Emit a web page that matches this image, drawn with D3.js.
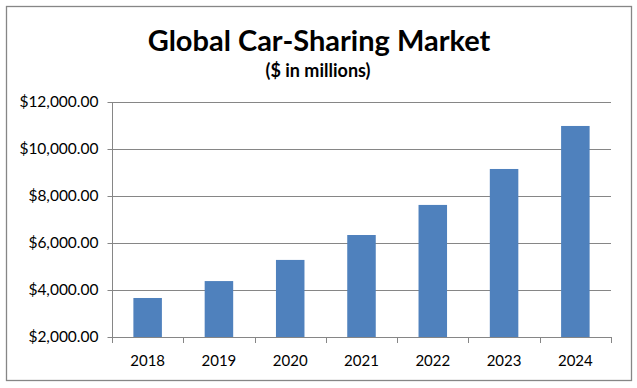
<!DOCTYPE html>
<html>
<head>
<meta charset="utf-8">
<script src="https://cdn.jsdelivr.net/npm/d3@7"></script>
<style>
  html, body { margin: 0; padding: 0; background: #fff; }
  svg { display: block; }
  text { font-family: Lato, "Open Sans", sans-serif; fill: #000; }
</style>
</head>
<body>
<svg id="chart" width="637" height="388"></svg>
<script>
const titleText = "Global Car-Sharing Market";
const subtitleText = "($ in millions)";
const categories = ["2018", "2019", "2020", "2021", "2022", "2023", "2024"];
const values = [3660, 4380, 5280, 6340, 7620, 9150, 10980];
const yTicks = [2000, 4000, 6000, 8000, 10000, 12000];

const svg = d3.select("#chart");
const W = 637, H = 388;
const margin = { left: 112, right: 26, top: 102, bottom: 51 };
const plotR = W - margin.right, plotB = H - margin.bottom;

svg.append("rect").attr("x", 6.5).attr("y", 6.5).attr("width", 625).attr("height", 374)
  .attr("fill", "#fff").attr("stroke", "#868686").attr("stroke-width", 1.3);

svg.append("text").attr("x", 319).attr("y", 51).attr("text-anchor", "middle")
  .attr("font-size", 29).attr("font-weight", "bold").text(titleText);
svg.append("text").attr("x", 318).attr("y", 77).attr("text-anchor", "middle")
  .attr("font-size", 18).attr("font-weight", "bold").text(subtitleText);

const x = d3.scaleBand().domain(categories).range([margin.left, plotR]).paddingInner(0.6).paddingOuter(0.3);
const y = d3.scaleLinear().domain([2000, 12000]).range([plotB, margin.top]);

// gridlines
svg.append("g").selectAll("line").data(yTicks.filter(d => d > 2000)).join("line")
  .attr("x1", margin.left).attr("x2", plotR)
  .attr("y1", d => Math.round(y(d)) + 0.5).attr("y2", d => Math.round(y(d)) + 0.5)
  .attr("stroke", "#868686").attr("stroke-width", 1);

// y axis
const yAxis = svg.append("g").attr("transform", `translate(${margin.left + 0.5},0)`)
  .call(d3.axisLeft(y).tickValues(yTicks).tickSize(5).tickPadding(9)
    .tickFormat(d => "$" + d3.format(",.2f")(d)));
yAxis.select(".domain").attr("stroke", "#868686").attr("d", `M0,${y(12000)}V${y(2000)}`);
yAxis.selectAll(".tick line").attr("stroke", "#868686");
yAxis.selectAll(".tick text").attr("font-size", 15.5).attr("font-family", "Lato, sans-serif").attr("fill", "#000");
yAxis.selectAll(".tick").attr("transform", d => `translate(0,${Math.round(y(d)) + 0.5})`);

// bars
svg.append("g").selectAll("rect").data(values).join("rect")
  .attr("x", (d, i) => x(categories[i]))
  .attr("width", x.bandwidth())
  .attr("y", d => y(d))
  .attr("height", d => y(2000) - y(d))
  .attr("fill", "#4F81BD");

// x axis
const boundaries = d3.range(categories.length + 1).map(i => margin.left + i * (plotR - margin.left) / categories.length);
const xg = svg.append("g");
xg.append("line").attr("x1", margin.left).attr("x2", plotR)
  .attr("y1", Math.round(plotB) + 0.5).attr("y2", Math.round(plotB) + 0.5).attr("stroke", "#868686");
xg.selectAll("line.tk").data(boundaries).join("line").attr("class", "tk")
  .attr("x1", d => Math.round(d) + 0.5).attr("x2", d => Math.round(d) + 0.5)
  .attr("y1", Math.round(plotB)).attr("y2", Math.round(plotB) + 6).attr("stroke", "#868686");
xg.selectAll("text").data(categories).join("text")
  .attr("x", d => x(d) + x.bandwidth() / 2).attr("y", 366)
  .attr("text-anchor", "middle").attr("font-size", 15).text(d => d);
</script>
</body>
</html>
